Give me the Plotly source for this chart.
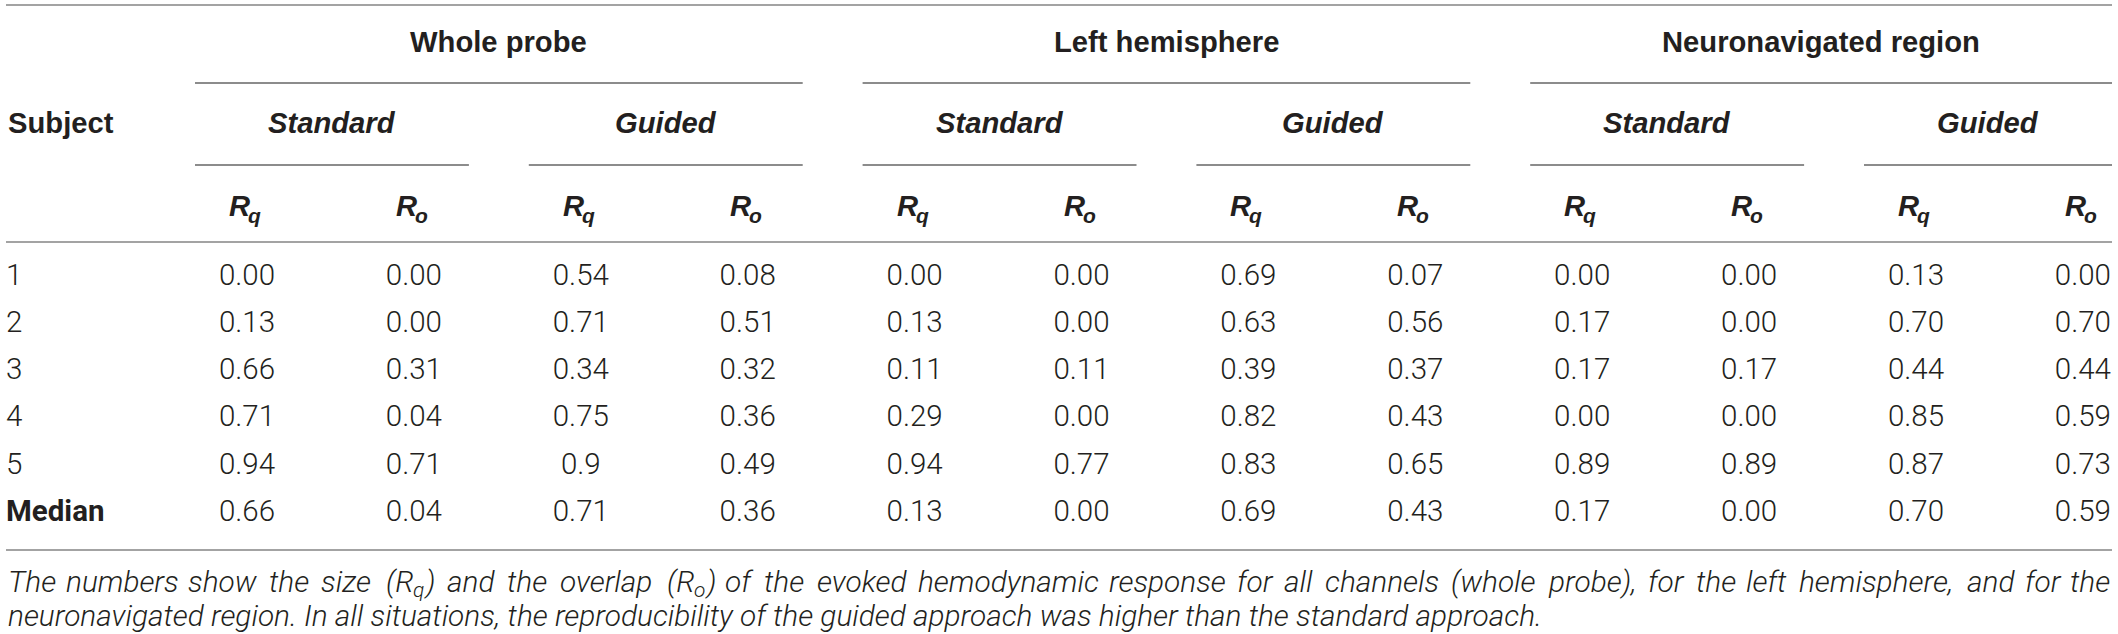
import re
import plotly.graph_objects as go

# table content
subjects = ["1", "2", "3", "4", "5", "Median"]
regions = ["Whole probe", "Left hemisphere", "Neuronavigated region"]
approaches = ["Standard", "Guided"]
measures = ["q", "o"]

whole_std_rq = ["0.00", "0.13", "0.66", "0.71", "0.94", "0.66"]
whole_std_ro = ["0.00", "0.00", "0.31", "0.04", "0.71", "0.04"]
whole_gui_rq = ["0.54", "0.71", "0.34", "0.75", "0.9", "0.71"]
whole_gui_ro = ["0.08", "0.51", "0.32", "0.36", "0.49", "0.36"]
left_std_rq = ["0.00", "0.13", "0.11", "0.29", "0.94", "0.13"]
left_std_ro = ["0.00", "0.00", "0.11", "0.00", "0.77", "0.00"]
left_gui_rq = ["0.69", "0.63", "0.39", "0.82", "0.83", "0.69"]
left_gui_ro = ["0.07", "0.56", "0.37", "0.43", "0.65", "0.43"]
nav_std_rq = ["0.00", "0.17", "0.17", "0.00", "0.89", "0.17"]
nav_std_ro = ["0.00", "0.00", "0.17", "0.00", "0.89", "0.00"]
nav_gui_rq = ["0.13", "0.70", "0.44", "0.85", "0.87", "0.70"]
nav_gui_ro = ["0.00", "0.70", "0.44", "0.59", "0.73", "0.59"]

caption_1 = ("The numbers show the size (R<sub>q</sub>) and the overlap (R<sub>o</sub>) of the evoked "
             "hemodynamic response for all channels (whole probe), for the left hemisphere, and for the")
caption_2 = ("neuronavigated region. In all situations, the reproducibility of the guided "
             "approach was higher than the standard approach.")

columns = [whole_std_rq, whole_std_ro, whole_gui_rq, whole_gui_ro,
           left_std_rq, left_std_ro, left_gui_rq, left_gui_ro,
           nav_std_rq, nav_std_ro, nav_gui_rq, nav_gui_ro]

# layout (pixels)
W, H = 2118, 634
left, right = 6, 2112
col_x = [247 + 166.9 * i for i in range(12)]
row_y = [278, 325, 372, 419, 466.5, 514]
y_top, y_group, y_gline, y_sub, y_sline, y_meas, y_hline = 5, 42, 83, 123, 165, 206, 242
y_bottom, y_cap1, y_cap2 = 550, 581, 615

ink = "#231f20"
rule = "#a3a3a3"
bold_font = dict(family="Liberation Sans, Arial", size=29.2, color=ink)
bold_sub = dict(family="Liberation Sans, Arial", size=21, color=ink)
light_font = dict(family="Roboto, Liberation Sans", size=29.5, color=ink, weight=300)


def span(a, b):
    return col_x[a] - 52, min(col_x[b] + 55, right)


fig = go.Figure()

for vals, cx in zip(columns, col_x):
    fig.add_trace(go.Scatter(x=[cx] * len(vals), y=row_y, mode="text", text=vals,
                             textposition="middle center", textfont=light_font,
                             hoverinfo="skip", showlegend=False))

fig.add_trace(go.Scatter(x=[left] * len(subjects), y=row_y, mode="text",
                         text=[f"<b>{s}</b>" if s == "Median" else s for s in subjects],
                         textposition="middle right", textfont=light_font,
                         hoverinfo="skip", showlegend=False))

annotations = [dict(x=left, y=y_sub, text="<b>Subject</b>", xanchor="left", font=bold_font)]
shapes = []
for y in (y_top, y_hline, y_bottom):
    shapes.append(dict(type="line", x0=left, x1=right, y0=y, y1=y,
                       line=dict(color=rule, width=2.2)))

for g, region in enumerate(regions):
    x0, x1 = span(4 * g, 4 * g + 3)
    annotations.append(dict(x=(x0 + x1) / 2, y=y_group, text=f"<b>{region}</b>", font=bold_font))
    shapes.append(dict(type="line", x0=x0, x1=x1, y0=y_gline, y1=y_gline,
                       line=dict(color="#8c8c8c", width=2)))
    for a, approach in enumerate(approaches):
        c = 4 * g + 2 * a
        x0, x1 = span(c, c + 1)
        annotations.append(dict(x=(x0 + x1) / 2, y=y_sub, text=f"<b><i>{approach}</i></b>", font=bold_font))
        shapes.append(dict(type="line", x0=x0, x1=x1, y0=y_sline, y1=y_sline,
                           line=dict(color="#8c8c8c", width=2)))
        for m, sub in enumerate(measures):
            # R and its subscript as two texts
            cx = col_x[c + m]
            annotations.append(dict(x=cx + 5, y=y_meas, text="<b><i>R</i></b>",
                                    xanchor="right", font=bold_font))
            annotations.append(dict(x=cx - 1, y=y_meas + 9, text=f"<b><i>{sub}</i></b>",
                                    xanchor="left", font=bold_sub))

# caption: first line justified word by word, second line left aligned
helv = {'a': 556, 'b': 556, 'c': 500, 'd': 556, 'e': 556, 'f': 278, 'g': 556, 'h': 556, 'i': 222,
        'j': 222, 'k': 500, 'l': 222, 'm': 833, 'n': 556, 'o': 556, 'p': 556, 'q': 556, 'r': 333,
        's': 500, 't': 278, 'u': 556, 'v': 500, 'w': 722, 'x': 500, 'y': 500, 'z': 500, 'T': 611,
        'I': 278, 'R': 722, '(': 333, ')': 333, ',': 278, '.': 278, ' ': 278}
roboto_ratio = 0.95  # roboto light italic runs a bit narrower than helvetica metrics
sub_scale = 0.7


def em_width(text):
    return roboto_ratio * sum(helv.get(ch, 556) for ch in text) / 1000


def segments(word):
    # split a word into (text, is_subscript) pieces
    parts = re.split(r"(<sub>.*?</sub>)", word)
    return [(p[5:-6], True) if p.startswith("<sub>") else (p, False) for p in parts if p]


def word_width(word, size):
    return sum(em_width(t) * size * (sub_scale if s else 1) for t, s in segments(word))


cap_size = 1527 / em_width(caption_2)
cap_font = dict(family="Roboto, Liberation Sans", size=cap_size, color=ink, weight=300, style="italic")
cap_sub_font = dict(cap_font, size=cap_size * sub_scale)

words = caption_1.split(" ")
widths = [word_width(w, cap_size) for w in words]
gap = (right - left - sum(widths)) / (len(words) - 1)
x = left
for i, (w, wd) in enumerate(zip(words, widths)):
    segs = segments(w)
    if len(segs) > 1:
        sx = x
        for k, (t, s) in enumerate(segs):
            annotations.append(dict(x=sx - 3 * min(k, 1), y=y_cap1 + (0.3 * cap_size if s else 0), text=t,
                                    xanchor="left", font=cap_sub_font if s else cap_font))
            sx += em_width(t) * cap_size * (sub_scale if s else 1)
    elif i == 0:
        annotations.append(dict(x=left, y=y_cap1, text=w, xanchor="left", font=cap_font))
    elif i == len(words) - 1:
        annotations.append(dict(x=right, y=y_cap1, text=w, xanchor="right", font=cap_font))
    else:
        annotations.append(dict(x=x + wd / 2, y=y_cap1, text=w, xanchor="center", font=cap_font))
    x += wd + gap
annotations.append(dict(x=left, y=y_cap2, text=caption_2, xanchor="left", font=cap_font))

for an in annotations:
    an.update(xref="x", yref="y", showarrow=False, yanchor="middle")

fig.update_layout(
    width=W, height=H,
    margin=dict(l=0, r=0, t=0, b=0),
    paper_bgcolor="white", plot_bgcolor="white",
    xaxis=dict(range=[0, W], visible=False, fixedrange=True),
    yaxis=dict(range=[H, 0], visible=False, fixedrange=True),
    annotations=annotations, shapes=shapes,
)

# drop the default page margin so the table sits flush in the window
fig.write_html("out.html", config={"displayModeBar": False},
               post_script="document.body.style.margin='0';")
